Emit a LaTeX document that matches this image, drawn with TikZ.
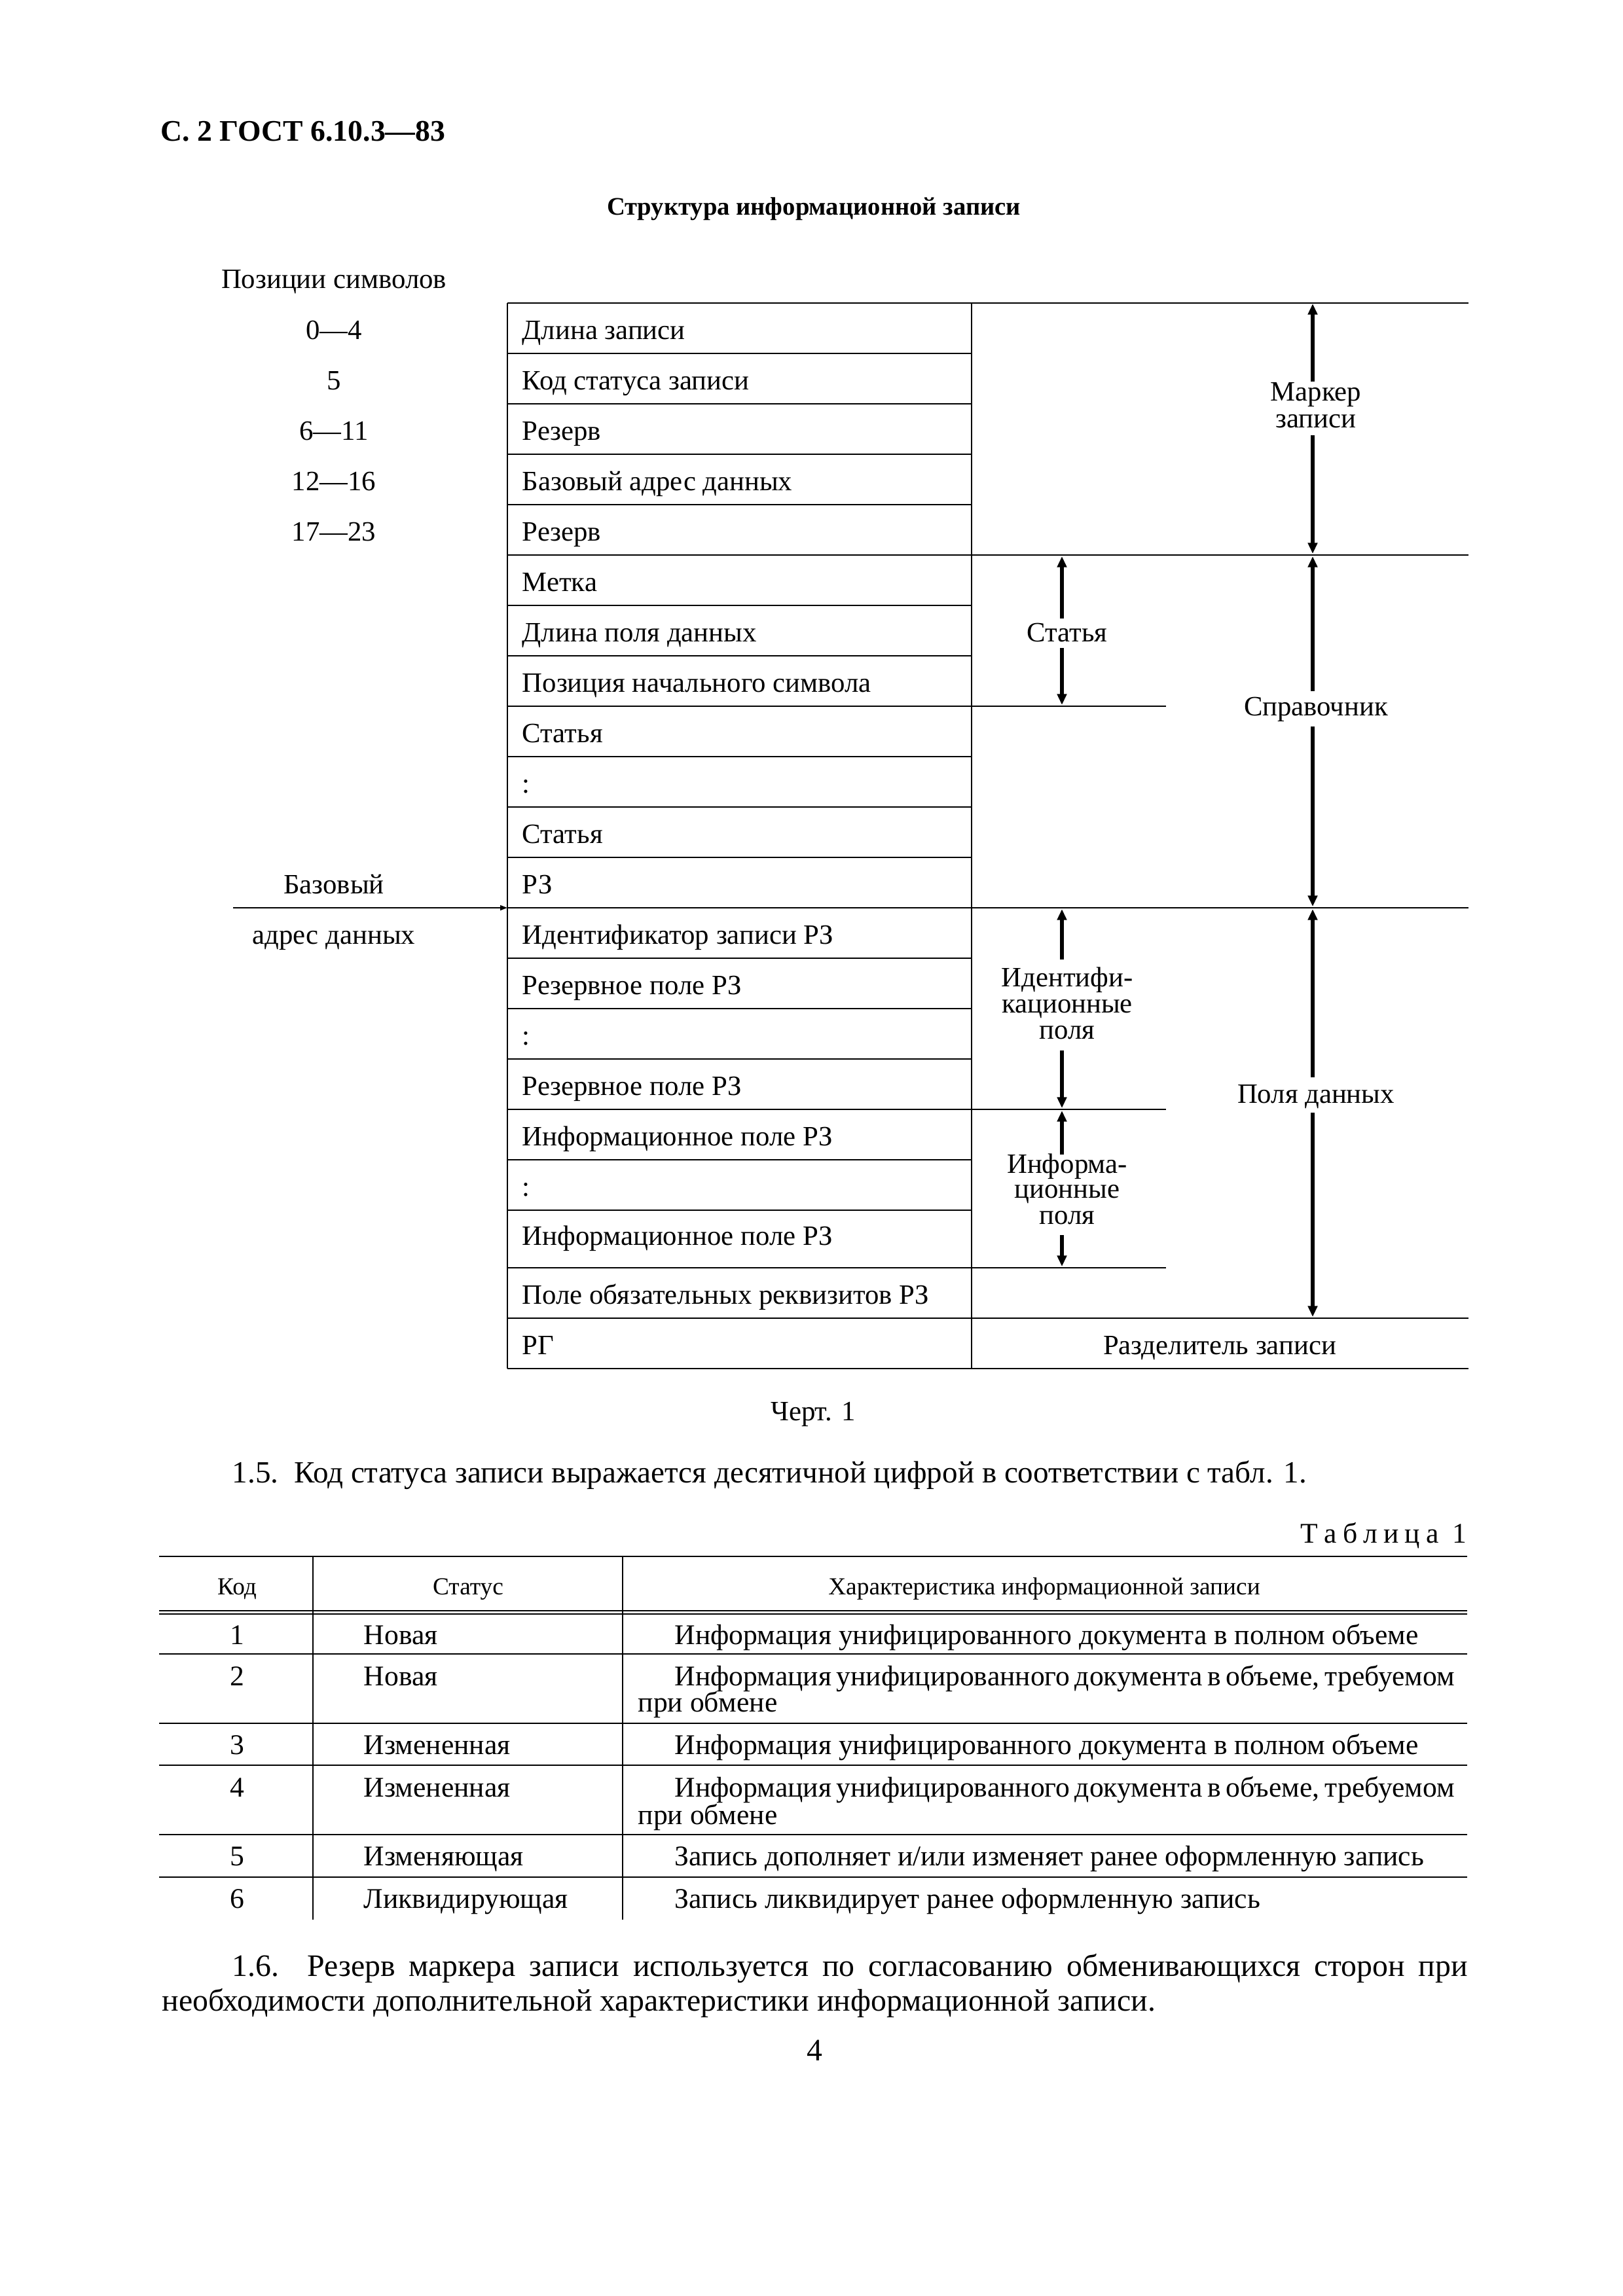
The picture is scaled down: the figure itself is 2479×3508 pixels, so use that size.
\documentclass[tikz,border=0pt]{standalone}
\usepackage{fontspec}
\setmainfont{Liberation Serif}
\usetikzlibrary{arrows.meta}
\begin{document}
\begin{tikzpicture}[x=0.2409pt,y=-0.2409pt,
  hl/.style={line width=0.55pt},
  vl/.style={line width=0.45pt},
  arr/.style={line width=1.5pt,-{Triangle[length=4pt,width=3.4pt]}},
  small arr/.style={line width=0.55pt,-{Triangle[length=2.6pt,width=1.8pt]}},
  cell/.style={anchor=base west,inner sep=0pt,font=\fontsize{10.3}{12}\selectfont},
  ctr/.style={anchor=base,inner sep=0pt,font=\fontsize{10.3}{12}\selectfont},
  tcell/.style={anchor=base west,inner sep=0pt,font=\fontsize{10.5}{12}\selectfont},
  tctr/.style={anchor=base,inner sep=0pt,font=\fontsize{10.5}{12}\selectfont},
  thead/.style={anchor=base,inner sep=0pt,font=\fontsize{9}{11}\selectfont},
  body/.style={anchor=base west,inner sep=0pt,font=\fontsize{11.5}{13}\selectfont},
]
\useasboundingbox[fill=white] (0,0) rectangle (2479,3508);

% ---------- page header ----------
\node[anchor=base west,inner sep=0pt,font=\fontsize{11}{13}\selectfont\bfseries] (hdr) at (245,215) {С. 2 ГОСТ 6.10.3—83};
\node[anchor=base,inner sep=0pt,font=\fontsize{9.3}{11}\selectfont\bfseries] (title) at (1243,328) {Структура информационной записи};

% ---------- diagram geometry ----------
\def\L{775}\def\M{1484}\def\R{2243}\def\S{1781}
% horizontal lines
\draw[hl] (\L,463) -- (\R,463);
\foreach \y in {540,617,694,771,925,1002,1156,1233,1310,1464,1541,1618,1772,1849}
  \draw[hl] (\L,\y) -- (\M,\y);
\foreach \y in {1079,1695,1937}
  \draw[hl] (\L,\y) -- (\S,\y);
\foreach \y in {848,1387,2014,2091}
  \draw[hl] (\L,\y) -- (\R,\y);
% vertical lines
\draw[vl] (\L,463) -- (\L,2091);
\draw[vl] (\M,463) -- (\M,2091);

% ---------- left column ----------
\node[ctr] (pos) at (510,440) {Позиции символов};
\node[ctr] (p1) at (510,518) {0—4};
\node[ctr] (p2) at (510,595) {5};
\node[ctr] (p3) at (510,672) {6—11};
\node[ctr] (p4) at (510,749) {12—16};
\node[ctr] (p5) at (510,826) {17—23};
\node[ctr] (base1) at (510,1365) {Базовый};
\node[ctr] (base2) at (510,1442) {адрес данных};
\coordinate (ba0) at (356,1387);
\coordinate (ba1) at (\L,1387);
\draw[small arr] (ba0) -- (ba1);

% ---------- rows ----------
\node[cell] (r1) at (797,518) {Длина записи};
\node[cell] (r2) at (797,595) {Код статуса записи};
\node[cell] (r3) at (797,672) {Резерв};
\node[cell] (r4) at (797,749) {Базовый адрес данных};
\node[cell] (r5) at (797,826) {Резерв};
\node[cell] (r6) at (797,903) {Метка};
\node[cell] (r7) at (797,980) {Длина поля данных};
\node[cell] (r8) at (797,1057) {Позиция начального символа};
\node[cell] (r9) at (797,1134) {Статья};
\node[cell] (r10) at (797,1211) {:};
\node[cell] (r11) at (797,1288) {Статья};
\node[cell] (r12) at (797,1365) {РЗ};
\node[cell] (r13) at (797,1442) {Идентификатор записи РЗ};
\node[cell] (r14) at (797,1519) {Резервное поле РЗ};
\node[cell] (r15) at (797,1596) {:};
\node[cell] (r16) at (797,1673) {Резервное поле РЗ};
\node[cell] (r17) at (797,1750) {Информационное поле РЗ};
\node[cell] (r18) at (797,1827) {:};
\node[cell] (r19) at (797,1902) {Информационное поле РЗ};
\node[cell] (r20) at (797,1992) {Поле обязательных реквизитов РЗ};
\node[cell] (r21) at (797,2069) {РГ};
\node[ctr] (sep) at (1863,2069) {Разделитель записи};

% ---------- right labels & arrows ----------
\node[ctr] (mk1) at (2010,612) {Маркер};
\node[ctr] (mk2) at (2010,653) {записи};
\coordinate (mkA) at (2005,583); \coordinate (mkB) at (2005,464);
\coordinate (mkC) at (2005,665); \coordinate (mkD) at (2005,846);
\draw[arr] (mkA) -- (mkB);
\draw[arr] (mkC) -- (mkD);

\node[ctr] (spr) at (2010,1093) {Справочник};
\coordinate (spA) at (2005,1056); \coordinate (spB) at (2005,850);
\coordinate (spC) at (2005,1110); \coordinate (spD) at (2005,1385);
\draw[arr] (spA) -- (spB);
\draw[arr] (spC) -- (spD);

\node[ctr] (pd) at (2010,1685) {Поля данных};
\coordinate (pdA) at (2005,1646); \coordinate (pdB) at (2005,1389);
\coordinate (pdC) at (2005,1700); \coordinate (pdD) at (2005,2012);
\draw[arr] (pdA) -- (pdB);
\draw[arr] (pdC) -- (pdD);

\node[ctr] (st) at (1630,980) {Статья};
\coordinate (stA) at (1622,945); \coordinate (stB) at (1622,850);
\coordinate (stC) at (1622,990); \coordinate (stD) at (1622,1077);
\draw[arr] (stA) -- (stB);
\draw[arr] (stC) -- (stD);

\node[ctr] (id1) at (1630,1507) {Идентифи-};
\node[ctr] (id2) at (1630,1547) {кационные};
\node[ctr] (id3) at (1630,1587) {поля};
\coordinate (idA) at (1622,1466); \coordinate (idB) at (1622,1389);
\coordinate (idC) at (1622,1605); \coordinate (idD) at (1622,1693);
\draw[arr] (idA) -- (idB);
\draw[arr] (idC) -- (idD);

\node[ctr] (if1) at (1630,1792) {Информа-};
\node[ctr] (if2) at (1630,1830) {ционные};
\node[ctr] (if3) at (1630,1870) {поля};
\coordinate (ifA) at (1622,1764); \coordinate (ifB) at (1622,1697);
\coordinate (ifC) at (1622,1887); \coordinate (ifD) at (1622,1935);
\draw[arr] (ifA) -- (ifB);
\draw[arr] (ifC) -- (ifD);

% ---------- caption and text ----------
\node[ctr] (cap) at (1242,2170) {Черт. 1};
\node[body,font=\fontsize{11.35}{13}\selectfont] (p15) at (354,2265) {1.5.\hspace{0.5em}Код статуса записи выражается десятичной цифрой в соответствии с табл. 1.};
\node[anchor=base east,inner sep=0pt,font=\fontsize{10.5}{12}\selectfont] (tabn) at (2241,2357)
  {Т\hspace{2.2pt}а\hspace{2.2pt}б\hspace{2.2pt}л\hspace{2.2pt}и\hspace{2.2pt}ц\hspace{2.2pt}а\hspace{5pt}1};

% ---------- table 1 ----------
\draw[hl] (243,2378) -- (2241,2378);
\draw[line width=0.5pt] (243,2461) -- (2241,2461);
\draw[line width=0.5pt] (243,2466) -- (2241,2466);
\foreach \y in {2527,2633,2697,2803,2868}
  \draw[hl] (243,\y) -- (2241,\y);
\draw[vl] (478,2378) -- (478,2933);
\draw[vl] (951,2378) -- (951,2933);

\node[thead] (h1) at (362,2436) {Код};
\node[thead] (h2) at (715,2436) {Статус};
\node[thead] (h3) at (1595,2436) {Характеристика информационной записи};

\node[tctr] (k1) at (362,2512) {1};
\node[tcell] (s1) at (555,2512) {Новая};
\node[tcell] (c1) at (1030,2512) {Информация унифицированного документа в полном объеме};

\node[tctr] (k2) at (362,2575) {2};
\node[tcell] (s2) at (555,2575) {Новая};
\node[tcell] (c2) at (1030,2575) {\makebox[286.9pt][s]{Информация унифицированного документа в объеме, требуемом}};
\node[tcell] (c2b) at (974,2615) {при обмене};

\node[tctr] (k3) at (362,2680) {3};
\node[tcell] (s3) at (555,2680) {Измененная};
\node[tcell] (c3) at (1030,2680) {Информация унифицированного документа в полном объеме};

\node[tctr] (k4) at (362,2745) {4};
\node[tcell] (s4) at (555,2745) {Измененная};
\node[tcell] (c4) at (1030,2745) {\makebox[286.9pt][s]{Информация унифицированного документа в объеме, требуемом}};
\node[tcell] (c4b) at (974,2787) {при обмене};

\node[tctr] (k5) at (362,2850) {5};
\node[tcell] (s5) at (555,2850) {Изменяющая};
\node[tcell] (c5) at (1030,2850) {Запись дополняет и/или изменяет ранее оформленную запись};

\node[tctr] (k6) at (362,2915) {6};
\node[tcell] (s6) at (555,2915) {Ликвидирующая};
\node[tcell] (c6) at (1030,2915) {Запись ликвидирует ранее оформленную запись};

% ---------- paragraph 1.6 ----------
\node[body] (p16a) at (354,3019) {\makebox[454.6pt][s]{1.6. Резерв маркера записи используется по согласованию обменивающихся сторон при}};
\node[body] (p16b) at (247,3072) {необходимости дополнительной характеристики информационной записи.};

\node[anchor=base,inner sep=0pt,font=\fontsize{11.5}{13}\selectfont] (pgno) at (1244,3148) {4};
\end{tikzpicture}
\end{document}
